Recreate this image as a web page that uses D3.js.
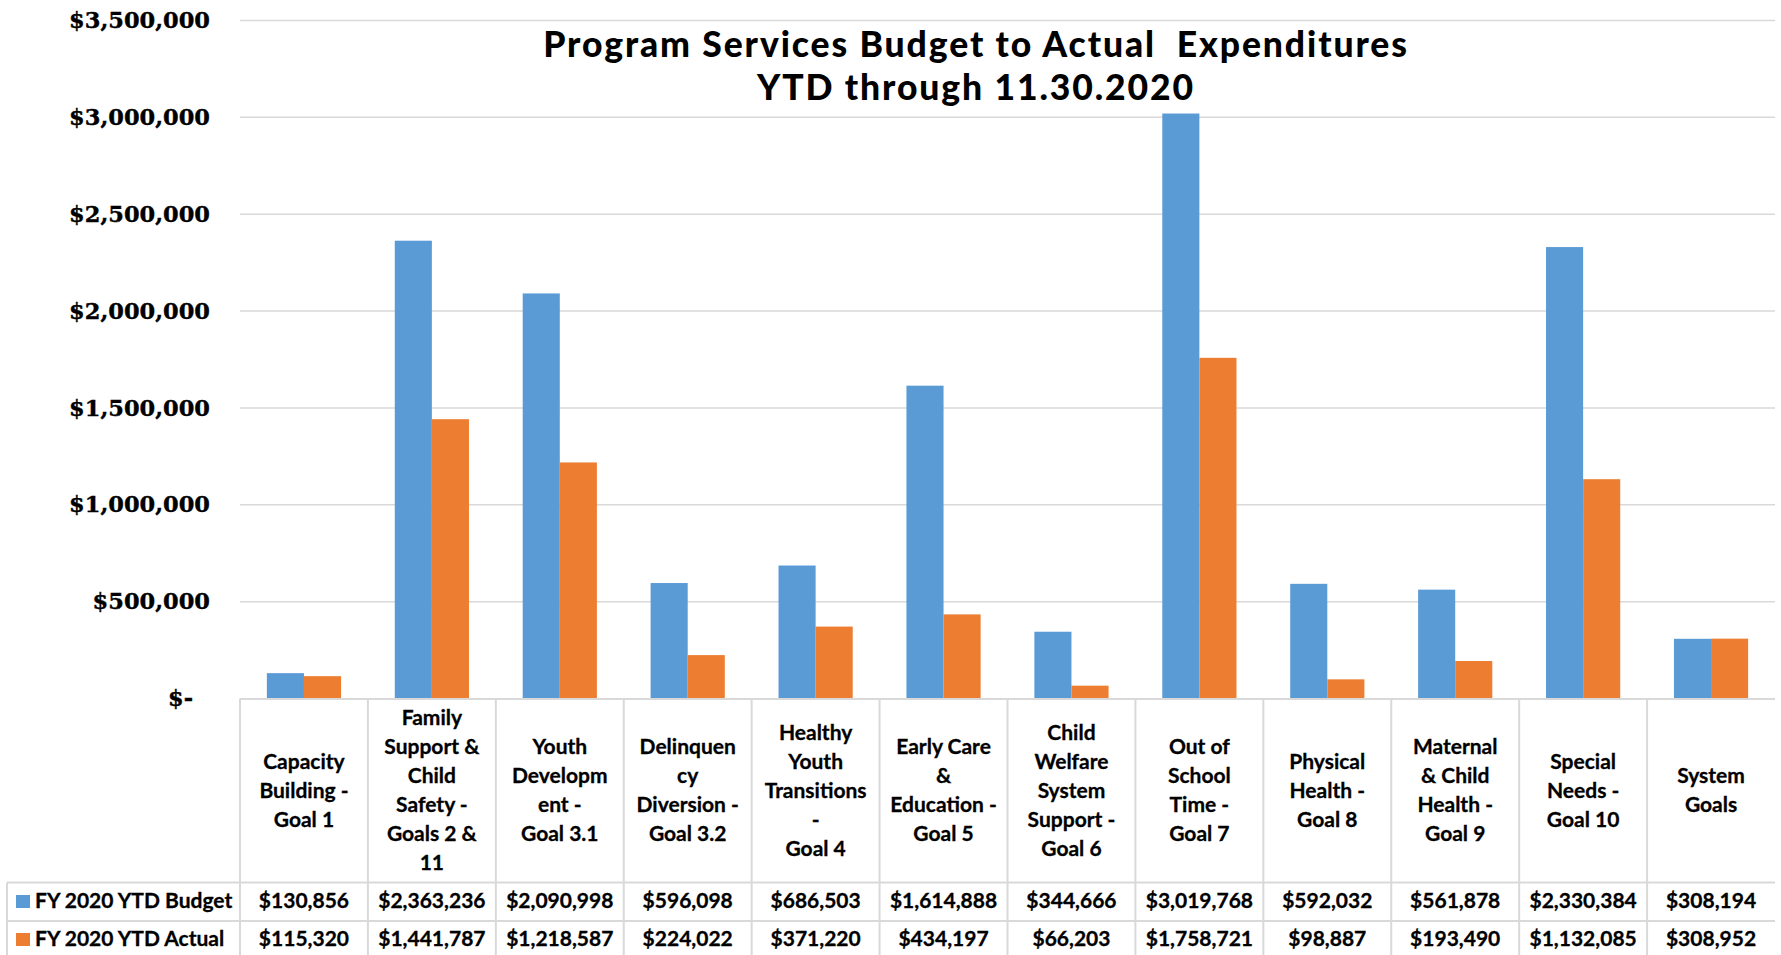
<!DOCTYPE html>
<html>
<head>
<meta charset="utf-8">
<script src="https://cdn.jsdelivr.net/npm/d3@7"></script>
<style>
  html, body { margin: 0; padding: 0; background: #fff; }
  svg { display: block; }
</style>
</head>
<body>
<svg id="chart" width="1781" height="955"></svg>
<script>
// ---- data ----
const titleLines = ["Program Services Budget to Actual  Expenditures", "YTD through 11.30.2020"];
const categories = [
  "Capacity Building - Goal 1",
  "Family Support & Child Safety - Goals 2 & 11",
  "Youth Development - Goal 3.1",
  "Delinquency Diversion - Goal 3.2",
  "Healthy Youth Transitions - Goal 4",
  "Early Care & Education - Goal 5",
  "Child Welfare System Support - Goal 6",
  "Out of School Time - Goal 7",
  "Physical Health - Goal 8",
  "Maternal & Child Health - Goal 9",
  "Special Needs - Goal 10",
  "System Goals"
];
const categoryLines = [
  ["Capacity", "Building -", "Goal 1"],
  ["Family", "Support &", "Child", "Safety -", "Goals 2 &", "11"],
  ["Youth", "Developm", "ent -", "Goal 3.1"],
  ["Delinquen", "cy", "Diversion -", "Goal 3.2"],
  ["Healthy", "Youth", "Transitions", "-", "Goal 4"],
  ["Early Care", "&", "Education -", "Goal 5"],
  ["Child", "Welfare", "System", "Support -", "Goal 6"],
  ["Out of", "School", "Time -", "Goal 7"],
  ["Physical", "Health -", "Goal 8"],
  ["Maternal", "& Child", "Health -", "Goal 9"],
  ["Special", "Needs -", "Goal 10"],
  ["System", "Goals"]
];
const seriesNames = ["FY 2020 YTD Budget", "FY 2020 YTD Actual"];
const budget = [130856, 2363236, 2090998, 596098, 686503, 1614888, 344666, 3019768, 592032, 561878, 2330384, 308194];
const actual = [115320, 1441787, 1218587, 224022, 371220, 434197, 66203, 1758721, 98887, 193490, 1132085, 308952];
const yTicks = [0, 500000, 1000000, 1500000, 2000000, 2500000, 3000000, 3500000];
const colors = ["#5B9BD5", "#ED7D31"];

// ---- layout ----
const svg = d3.select("#chart");
const plotLeft = 240, plotRight = 1775, yTop = 20.5, yZero = 698.5;
const tableLeft = 7, row1 = 882.5, row2 = 921, tableBottom = 955;
const grid = "#d9d9d9";
const tableFont = "Lato, 'Open Sans', sans-serif";

const x = d3.scaleBand().domain(categories).range([plotLeft, plotRight]).paddingInner(0).paddingOuter(0);
const y = d3.scaleLinear().domain([0, 3500000]).range([yZero, yTop]);
const barHalf = x.bandwidth() * 0.29;
const xs = d3.scaleBand().domain(seriesNames).range([-barHalf, barHalf]).padding(0);

// gridlines
svg.append("g").selectAll("line").data(yTicks.filter(d => d > 0)).join("line")
  .attr("x1", plotLeft).attr("x2", plotRight)
  .attr("y1", d => y(d)).attr("y2", d => y(d))
  .attr("stroke", grid).attr("stroke-width", 1.5);

// y axis labels
const fmt = d3.format(",.0f");
const yAxis = d3.axisLeft(y).tickValues(yTicks).tickSize(0).tickPadding(0)
  .tickFormat(d => d === 0 ? "$-" : "$" + fmt(d));
const ya = svg.append("g").attr("transform", `translate(210,0)`).call(yAxis);
ya.select(".domain").remove();
ya.selectAll(".tick text")
  .attr("font-family", "'DejaVu Serif', serif")
  .attr("font-weight", "bold")
  .attr("font-size", 22.5)
  .attr("fill", "#000")
  .attr("stroke", "#000").attr("stroke-width", 0.4)
  .attr("dx", d => d === 0 ? -17 : 0);

// bars
const allSeries = [budget, actual];
allSeries.forEach((vals, si) => {
  svg.append("g").selectAll("rect").data(categories).join("rect")
    .attr("x", c => x(c) + x.bandwidth() / 2 + xs(seriesNames[si]))
    .attr("width", xs.bandwidth())
    .attr("y", (c, i) => y(vals[i]))
    .attr("height", (c, i) => yZero - y(vals[i]))
    .attr("fill", colors[si]);
});

// data table lines
const tg = svg.append("g").attr("stroke", grid).attr("stroke-width", 2);
tg.append("line").attr("x1", plotLeft).attr("x2", plotRight).attr("y1", yZero + 0.5).attr("y2", yZero + 0.5);
tg.append("line").attr("x1", tableLeft).attr("x2", plotRight).attr("y1", row1).attr("y2", row1);
tg.append("line").attr("x1", tableLeft).attr("x2", plotRight).attr("y1", row2).attr("y2", row2);
tg.append("line").attr("x1", tableLeft).attr("x2", tableLeft).attr("y1", row1).attr("y2", tableBottom);
tg.selectAll("line.v").data(categories).join("line").attr("class", "v")
  .attr("x1", c => x(c)).attr("x2", c => x(c))
  .attr("y1", yZero).attr("y2", tableBottom);

// category labels
const lineH = 29, labelCenter = 790;
categories.forEach((c, i) => {
  const lines = categoryLines[i];
  const t = svg.append("text")
    .attr("font-family", tableFont).attr("font-weight", "bold").attr("font-size", 21)
    .attr("fill", "#000").attr("stroke", "#000").attr("stroke-width", 0.3)
    .attr("text-anchor", "middle");
  lines.forEach((ln, k) => {
    t.append("tspan")
      .attr("x", x(c) + x.bandwidth() / 2)
      .attr("y", labelCenter + (k - (lines.length - 1) / 2) * lineH)
      .attr("dy", "0.36em")
      .text(ln);
  });
});

// table rows
const rowBaselines = [908, 946];
allSeries.forEach((vals, si) => {
  svg.append("rect").attr("x", 16).attr("y", rowBaselines[si] - 13).attr("width", 14).attr("height", 13)
    .attr("fill", colors[si]);
  svg.append("text").attr("x", 35).attr("y", rowBaselines[si])
    .attr("font-family", tableFont).attr("font-weight", "bold").attr("font-size", 21)
    .attr("fill", "#000").attr("stroke", "#000").attr("stroke-width", 0.3)
    .text(seriesNames[si]);
  svg.append("g").selectAll("text").data(categories).join("text")
    .attr("x", c => x(c) + x.bandwidth() / 2)
    .attr("y", rowBaselines[si])
    .attr("text-anchor", "middle")
    .attr("font-family", tableFont).attr("font-weight", "bold").attr("font-size", 21)
    .attr("fill", "#000").attr("stroke", "#000").attr("stroke-width", 0.3)
    .text((c, i) => "$" + fmt(vals[i]));
});

// title
const title = svg.append("text").attr("text-anchor", "middle")
  .attr("font-family", "Lato, sans-serif").attr("font-weight", 900).attr("font-size", 35.5)
  .attr("letter-spacing", 1.9)
  .attr("fill", "#000");
titleLines.forEach((ln, k) => {
  title.append("tspan").attr("x", 976).attr("y", 57 + k * 42.5).attr("xml:space", "preserve").text(ln);
});
</script>
</body>
</html>
